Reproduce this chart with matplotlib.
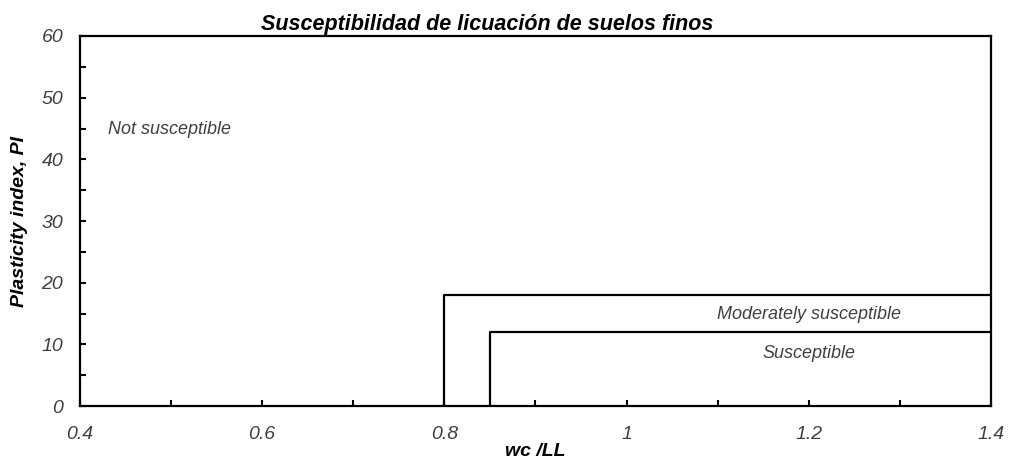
import matplotlib
matplotlib.use('Agg')
import matplotlib.pyplot as plt
from matplotlib.ticker import MultipleLocator

# boundaries of the liquefaction susceptibility zones
moderate_x = [0.8, 0.8, 1.4]
moderate_y = [0, 18, 18]
susceptible_x = [0.85, 0.85, 1.4]
susceptible_y = [0, 12, 12]

# zone labels: (text, x, y, ha)
zone_labels = [
    ('Not susceptible', 0.431, 44.8, 'left'),
    ('Moderately susceptible', 1.20, 14.8, 'center'),
    ('Susceptible', 1.20, 8.6, 'center'),
]

plt.rcParams['font.family'] = ['Liberation Sans Narrow', 'Liberation Sans', 'DejaVu Sans']

fig = plt.figure(figsize=(10.09, 4.61), dpi=100)
ax = fig.add_axes([0.0793, 0.119, 0.9027, 0.803])

ax.plot(moderate_x, moderate_y, color='black', lw=1.6)
ax.plot(susceptible_x, susceptible_y, color='black', lw=1.6)

for txt, x, y, ha in zone_labels:
    ax.text(x, y, txt, ha=ha, va='center', style='italic', fontsize=13, color='#404040')

ax.set_xlim(0.4, 1.4)
ax.set_ylim(0, 60)
ax.xaxis.set_major_locator(MultipleLocator(0.2))
ax.xaxis.set_minor_locator(MultipleLocator(0.1))
ax.yaxis.set_major_locator(MultipleLocator(10))
ax.yaxis.set_minor_locator(MultipleLocator(5))
ax.tick_params(which='both', direction='in', length=4, width=1.5, labelsize=14,
               labelcolor='#404040')
ax.tick_params(axis='x', pad=14)
ax.tick_params(axis='y', pad=12)
ax.set_xticks([0.4, 0.6, 0.8, 1.0, 1.2, 1.4])
ax.set_xticklabels(['0.4', '0.6', '0.8', '1', '1.2', '1.4'])
for lbl in ax.get_xticklabels() + ax.get_yticklabels():
    lbl.set_style('italic')

for sp in ax.spines.values():
    sp.set_linewidth(1.6)

ax.set_xlabel('wc /LL', fontsize=14, fontweight='bold', style='italic', labelpad=0)
ax.set_ylabel('Plasticity index, PI', fontsize=14, fontweight='bold', style='italic', labelpad=10)
ax.set_title('Susceptibilidad de licuación de suelos finos', fontsize=15.5,
             fontweight='bold', style='italic', pad=4, x=0.447)

fig.savefig('out.png', dpi=100)
